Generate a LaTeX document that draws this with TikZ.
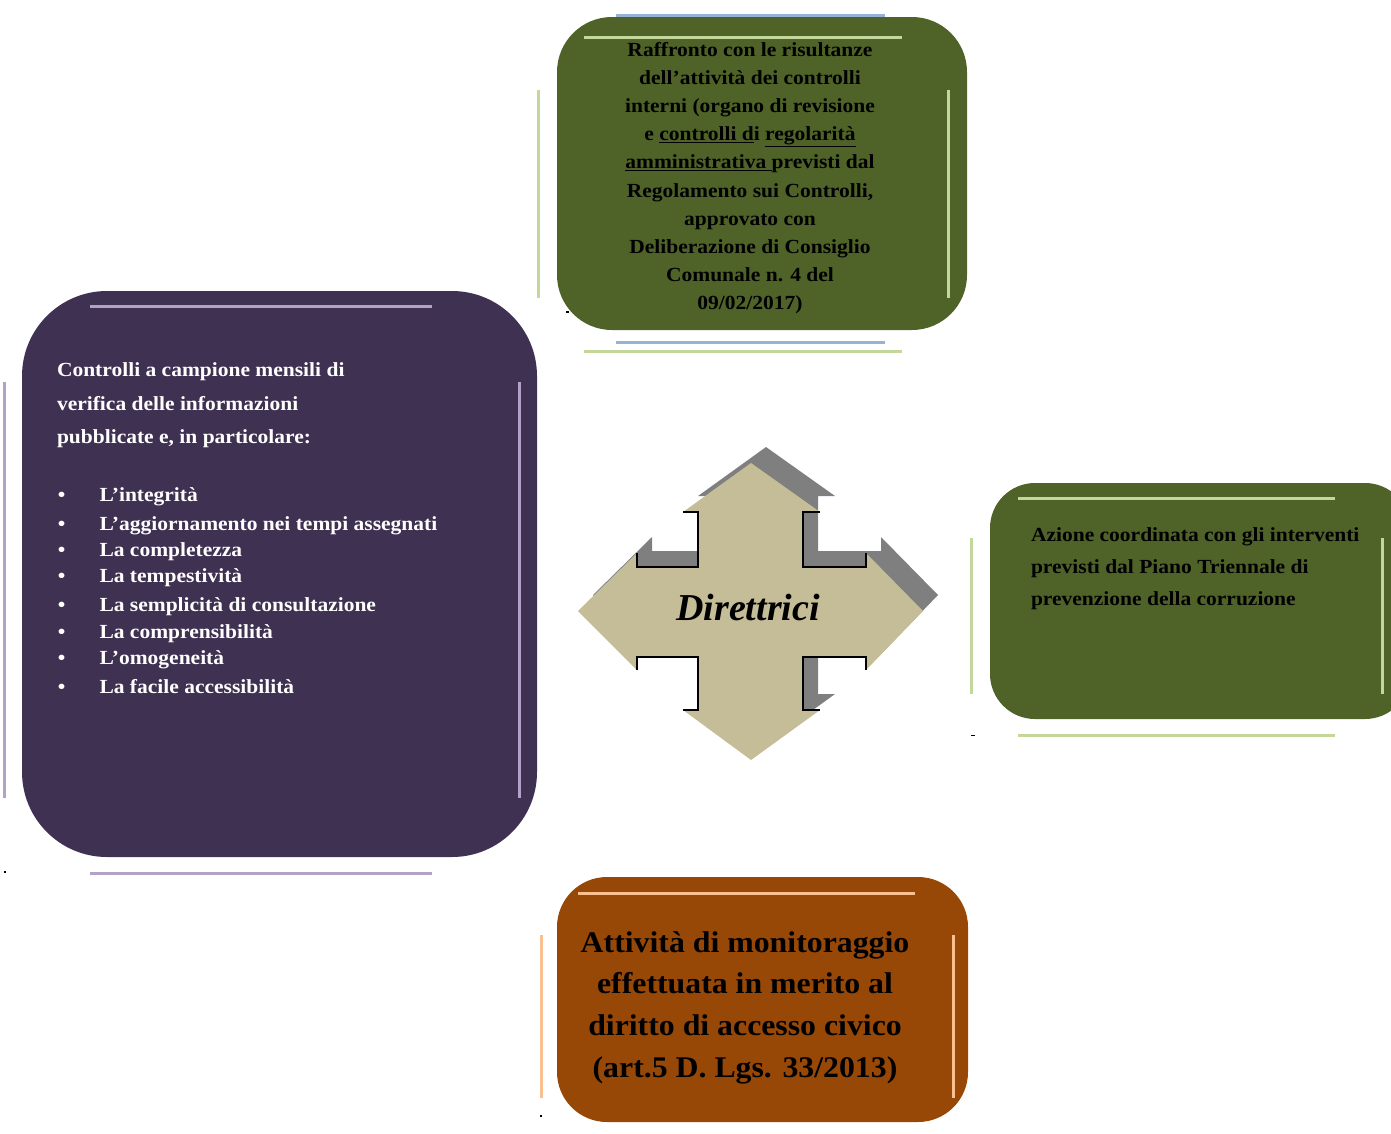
\documentclass[tikz,border=0pt]{standalone}
\usepackage{fontspec}
\setmainfont{Liberation Serif}
\newfontfamily\widefont[FakeStretch=1.075]{Liberation Serif}
\newfontfamily\widerfont[FakeStretch=1.06]{Liberation Serif}
\definecolor{olivebox}{HTML}{4F6228}
\definecolor{purplebox}{HTML}{3F3151}
\definecolor{brownbox}{HTML}{974806}
\definecolor{lgreen}{HTML}{C3D69B}
\definecolor{lblue}{HTML}{95B3D7}
\definecolor{lpurple}{HTML}{B3A2C7}
\definecolor{lpeach}{HTML}{FAC090}
\definecolor{tan}{HTML}{C4BD97}
\definecolor{shadowgray}{HTML}{7F7F7F}
\begin{document}
\begin{tikzpicture}[x=1pt,y=-1pt,
  box/.style={draw=none,inner sep=0,outer sep=0},
  deco/.style={line width=3pt},
  txt/.style={inner sep=0,outer sep=0,font=\widefont\bfseries\fontsize{20}{24}\selectfont},
  bigtxt/.style={inner sep=0,outer sep=0,font=\widerfont\bfseries\fontsize{30}{36}\selectfont},
  notch/.style={line width=1.6pt,black}]
\useasboundingbox (0,0) rectangle (1391,1133);
\clip (0,0) rectangle (1391,1133);

% ---------- top green box ----------
\node[box,fill=olivebox,rounded corners=55pt,minimum width=410pt,minimum height=313pt] (topbox) at (762,173.5) {};
\draw[deco,lblue] (616,15) -- (885,15);
\draw[deco,lgreen] (584,37) -- (902,37);
\draw[deco,lblue] (616,342) -- (885,342);
\draw[deco,lgreen] (584,351) -- (902,351);
\draw[deco,lgreen] (538,90) -- (538,298);
\draw[deco,lgreen] (948,90) -- (948,298);
\foreach \t [count=\i] in {{Raffronto con le risultanze},{dell’attività dei controlli},{interni (organo di revisione},{e \underline{controlli d}i \underline{regolarità}},{\underline{amministrativa }previsti dal},{Regolamento sui Controlli,},{approvato con},{Deliberazione di Consiglio},{Comunale n. 4 del},{09/02/2017)}}
  \node[txt,anchor=base] (top\i) at (750,{56+28.2*(\i-1)}) {\t};

% ---------- left purple box ----------
\node[box,fill=purplebox,rounded corners=85pt,minimum width=515pt,minimum height=566pt] (leftbox) at (279.5,574) {};
\draw[deco,lpurple] (90,306) -- (432,306);
\draw[deco,lpurple] (90,873) -- (432,873);
\draw[deco,lpurple] (4,382) -- (4,798);
\draw[deco,lpurple] (519,382) -- (519,798);
\foreach \t/\y [count=\i] in {{Controlli a campione mensili di}/376,{verifica delle informazioni}/410,{pubblicate e, in particolare:}/443}
  \node[txt,white,anchor=base west] (lh\i) at (57,\y) {\t};
\foreach \t/\y [count=\i] in {{L’integrità}/501.7,{L’aggiornamento nei tempi assegnati}/530,{La completezza}/556.7,{La tempestività}/582,{La semplicità di consultazione}/611,{La comprensibilità}/638,{L’omogeneità}/664,{La facile accessibilità}/693}{
  \node[txt,white,anchor=base] (lb\i) at (61.7,\y) {\textbullet};
  \node[txt,white,anchor=base west] (li\i) at (99.5,\y) {\t};
}

% ---------- right green box ----------
\node[box,fill=olivebox,rounded corners=45pt,minimum width=420pt,minimum height=236pt] (rightbox) at (1200,601) {};
\draw[deco,lgreen] (1018,498) -- (1335,498);
\draw[deco,lgreen] (1018,735) -- (1335,735);
\draw[deco,lgreen] (971,538) -- (971,694);
\draw[deco,lgreen] (1382,538) -- (1382,694);
\foreach \t/\y [count=\i] in {{Azione coordinata con gli interventi}/541,{previsti dal Piano Triennale di}/573,{prevenzione della corruzione}/605}
  \node[txt,anchor=base west] (r\i) at (1031,\y) {\t};

% ---------- bottom brown box ----------
\node[box,fill=brownbox,rounded corners=50pt,minimum width=411pt,minimum height=245pt] (botbox) at (762.5,999.5) {};
\draw[deco,lpeach] (578,893) -- (915,893);
\draw[deco,lpeach] (541,935) -- (541,1098);
\draw[deco,lpeach] (953,935) -- (953,1098);
\foreach \t [count=\i] in {{Attività di monitoraggio},{effettuata in merito al},{diritto di accesso civico},{(art.5 D. Lgs. 33/2013)}}
  \node[bigtxt,anchor=base] (b\i) at (745,{952+41.7*(\i-1)}) {\t};

% ---------- central four-way arrow ----------
\def\quadarrow{(751,463) -- (820,512) -- (803,512) -- (803,567) -- (866,567) -- (866,553) -- (923,611) -- (866,670) -- (866,657) -- (803,657) -- (803,710) -- (820,710) -- (751,760) -- (683,710) -- (698,710) -- (698,657) -- (637,657) -- (637,670) -- (578,611) -- (637,553) -- (637,567) -- (698,567) -- (698,512) -- (683,512) -- cycle}
\fill[shadowgray,shift={(15pt,16pt)}] \quadarrow;
\fill[tan] \quadarrow;
\draw[notch] (683,512) -- (698,512) -- (698,567) -- (637,567) -- (637,553);
\draw[notch] (820,512) -- (803,512) -- (803,567) -- (866,567) -- (866,553);
\draw[notch] (820,710) -- (803,710) -- (803,657) -- (866,657) -- (866,670);
\draw[notch] (683,710) -- (698,710) -- (698,657) -- (637,657) -- (637,670);
\node[inner sep=0,anchor=base,font=\bfseries\itshape\fontsize{38}{44}\selectfont] (dir) at (748,620) {Direttrici};

% ---------- tiny marks ----------
\fill[black] (566,311) rectangle (569,313);
\fill[black] (4,871) rectangle (6,873);
\fill[black] (971,734.5) rectangle (975,735.5);
\fill[black] (540,1115) rectangle (542,1117);
\end{tikzpicture}
\end{document}
